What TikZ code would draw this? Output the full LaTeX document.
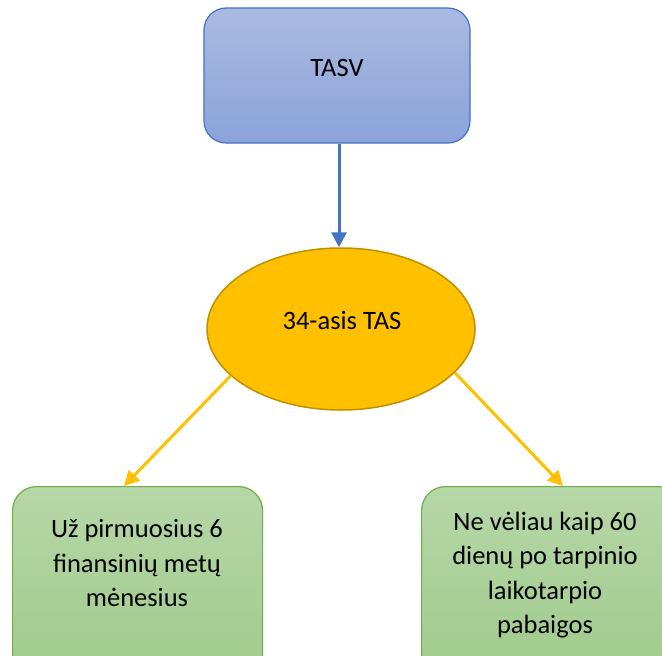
\documentclass[tikz,border=0pt]{standalone}
\usepackage{fontspec}
\setmainfont{Carlito}
\usetikzlibrary{shapes.geometric,arrows.meta,calc}
\definecolor{bluedge}{HTML}{4472C4}
\definecolor{bluetop}{HTML}{AABAE2}
\definecolor{bluebot}{HTML}{8AA3D9}
\definecolor{gold}{HTML}{FFC000}
\definecolor{goldedge}{HTML}{BF9000}
\definecolor{greentop}{HTML}{B6D7A8}
\definecolor{greenbot}{HTML}{9FCA8A}
\definecolor{greenedge}{HTML}{70AD47}
\tikzset{
  bluebox/.style={draw=bluedge, line width=1.2pt, rounded corners=22pt, top color=bluetop, bottom color=bluebot, minimum width=266pt, minimum height=135pt},
  greenbox/.style={draw=greenedge, line width=1.2pt, rounded corners=24pt, top color=greentop, bottom color=greenbot},
  goldoval/.style={ellipse, draw=goldedge, line width=1.5pt, fill=gold, minimum width=268pt, minimum height=162pt, inner sep=0pt},
  txt/.style={font=\fontsize{26.5}{34.5}\selectfont, align=center, inner sep=0pt},
  bluearrow/.style={draw=bluedge, line width=3pt, -{Triangle[length=15pt,width=15pt]}},
  goldarrow/.style={draw=gold, line width=3pt, -{Triangle[length=15pt,width=15pt]}}
}
\begin{document}
\begin{tikzpicture}[x=1pt,y=-1pt]
\useasboundingbox (0,0) rectangle (662,656);
\clip (0,0) rectangle (662,656);
\fill[white] (0,0) rectangle (662,656);
\node[bluebox] (tasv) at (337,75.5) {};
\node[txt] (tasvt) at (337,68) {TASV};
\node[goldoval] (tas) at (341,329) {};
\node[txt] (tast) at (342,320) {34-asis TAS};
\node[greenbox, minimum width=250pt, minimum height=200pt, anchor=north west] (l) at (12,486) {};
\node[txt] (lt) at (137,563) {Už pirmuosius 6\\finansinių metų\\mėnesius};
\node[greenbox, minimum width=260pt, minimum height=200pt, anchor=north west] (r) at (421,486) {};
\node[txt] (rt) at (545,575) {Ne vėliau kaip 60\\dienų po tarpinio\\laikotarpio\\pabaigos};
\coordinate (bs) at ($(tasv.south)+(2,0)$);
\coordinate (lend) at ($(l.north west)+(112,0)$);
\coordinate (rend) at ($(r.north west)+(142,0)$);
\draw[bluearrow] (bs) -- (bs |- tas.north);
\draw[goldarrow] (tas.203) -- (lend);
\draw[goldarrow] (tas.-21) -- (rend);
\end{tikzpicture}
\end{document}
